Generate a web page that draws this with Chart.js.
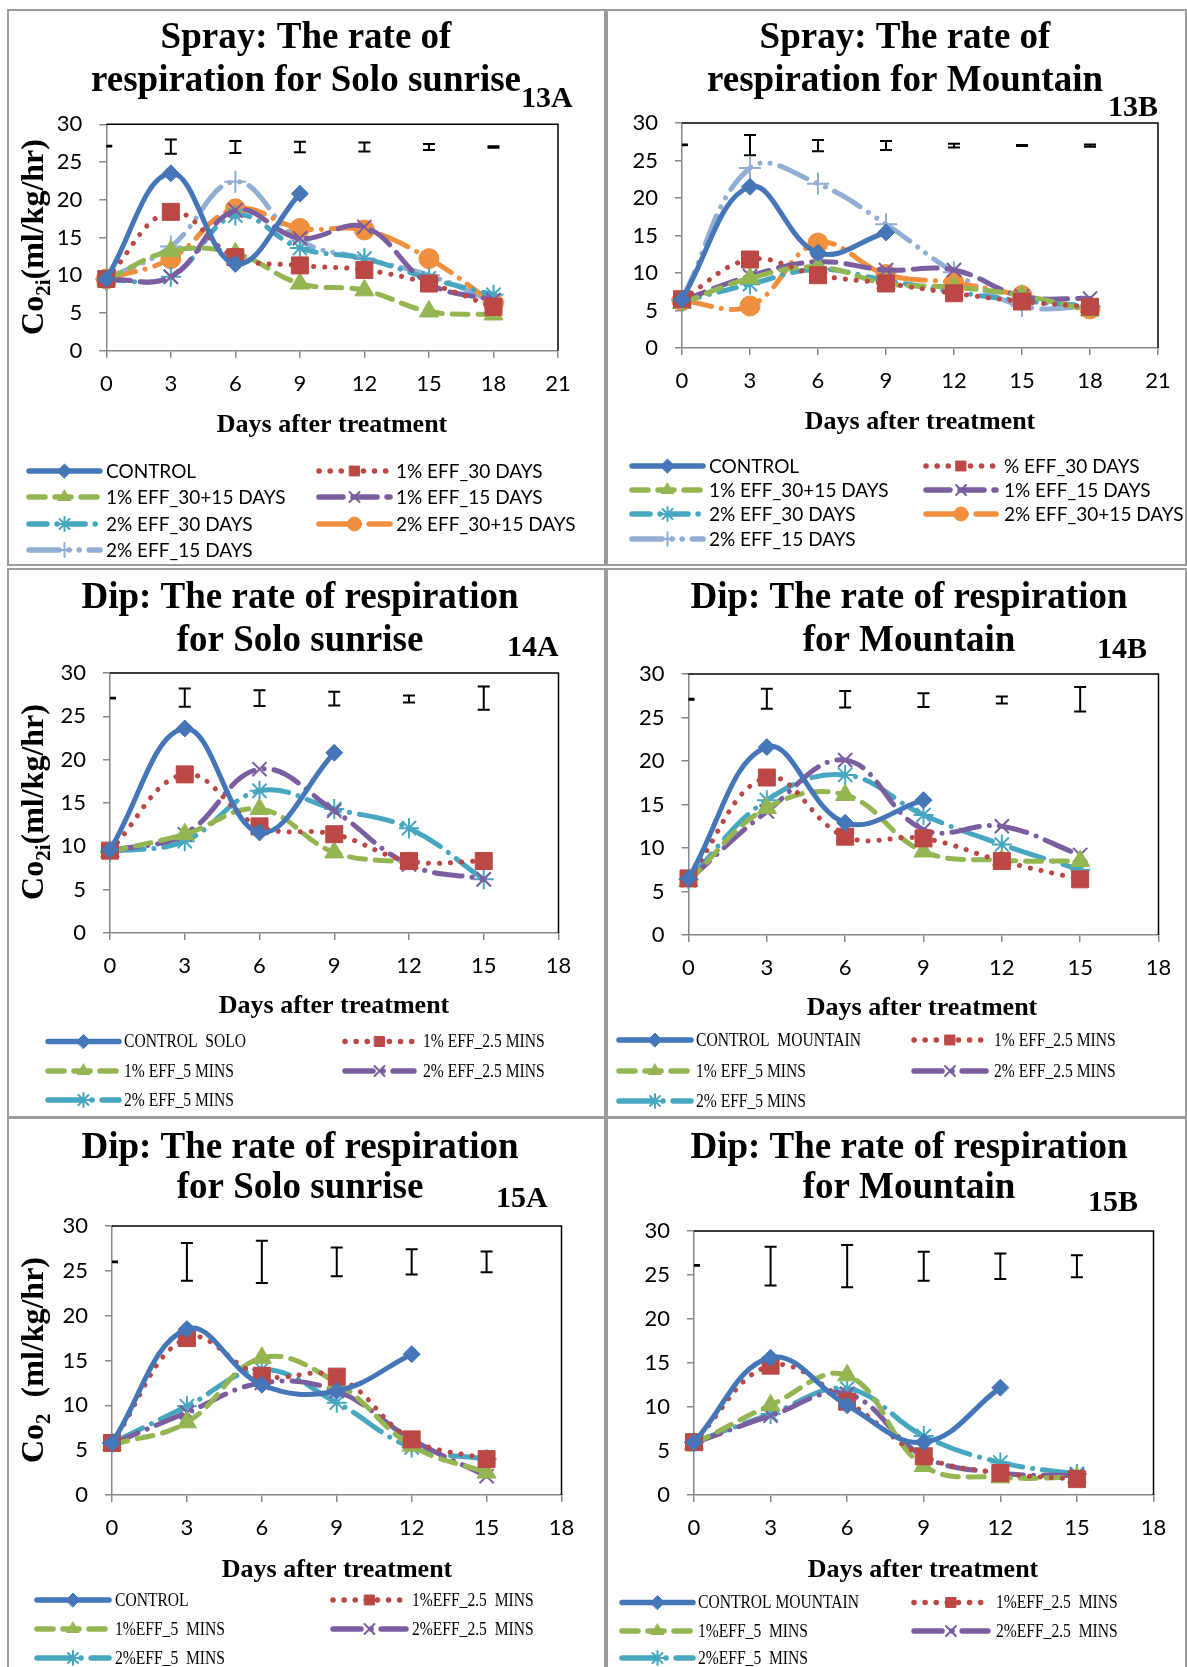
<!DOCTYPE html>
<html lang="en">
<head>
<meta charset="UTF-8">
<title>Respiration rate charts</title>
<script src="https://cdn.jsdelivr.net/npm/chart.js"></script>
<style>
  body { margin: 0; background: #fff; }
  #page { position: relative; width: 1187px; height: 1667px; overflow: hidden; background: #fff; }
  #page canvas { position: absolute; }
  .frame { position: absolute; border: 2px solid #9c9c9c; box-sizing: border-box; pointer-events: none; }
</style>
</head>
<body>
<div id="page"></div>

<script>
// ---------- data ----------
const days13 = [0, 3, 6, 9, 12, 15, 18];
const days14 = [0, 3, 6, 9, 12, 15];
const yTicks = [0, 5, 10, 15, 20, 25, 30];
const xTicks13 = [0, 3, 6, 9, 12, 15, 18, 21];
const xTicks14 = [0, 3, 6, 9, 12, 15, 18];

const names13A = ['CONTROL', '1% EFF_30 DAYS', '1% EFF_30+15 DAYS', '1% EFF_15 DAYS', '2% EFF_30 DAYS', '2% EFF_30+15 DAYS', '2% EFF_15 DAYS'];
const names13B = ['CONTROL', '% EFF_30 DAYS', '1% EFF_30+15 DAYS', '1% EFF_15 DAYS', '2% EFF_30 DAYS', '2% EFF_30+15 DAYS', '2% EFF_15 DAYS'];
const names14A = ['CONTROL  SOLO', '1% EFF_2.5 MINS', '1% EFF_5 MINS', '2% EFF_2.5 MINS', '2% EFF_5 MINS'];
const names14B = ['CONTROL  MOUNTAIN', '1% EFF_2.5 MINS', '1% EFF_5 MINS', '2% EFF_2.5 MINS', '2% EFF_5 MINS'];
const names15A = ['CONTROL', '1%EFF_2.5  MINS', '1%EFF_5  MINS', '2%EFF_2.5  MINS', '2%EFF_5  MINS'];
const names15B = ['CONTROL MOUNTAIN', '1%EFF_2.5  MINS', '1%EFF_5  MINS', '2%EFF_2.5  MINS', '2%EFF_5  MINS'];

// 13A spray, Solo sunrise
const s13A_control = [9.5, 23.5, 11.5, 20.8];
const s13A_eff1_30 = [9.5, 18.4, 12.4, 11.3, 10.7, 8.9, 5.8];
const s13A_eff1_30_15 = [9.4, 13.2, 12.9, 8.9, 8.0, 5.2, 4.8];
const s13A_eff1_15 = [9.5, 9.8, 18.6, 14.9, 16.4, 8.9, 6.7];
const s13A_eff2_30 = [9.3, 9.8, 17.9, 13.6, 12.2, 9.6, 7.4];
const s13A_eff2_30_15 = [9.5, 12.2, 18.8, 16.2, 16.0, 12.2, 6.3];
const s13A_eff2_15 = [9.5, 13.8, 22.4, 14.6, 12.2, 10.0, 6.5];
const e13A_mid = [27.1, 27.05, 27.0, 27.0, 27.0, 27.0, 27.0];
const e13A_half = [0.05, 0.95, 0.8, 0.7, 0.6, 0.4, 0.1];

// 13B spray, Mountain
const s13B_control = [6.5, 21.5, 12.7, 15.4];
const s13B_eff1_30 = [6.5, 11.8, 9.7, 8.6, 7.3, 6.2, 5.5];
const s13B_eff1_30_15 = [6.0, 9.3, 10.8, 8.6, 8.1, 7.0, 5.0];
const s13B_eff1_15 = [6.3, 9.6, 11.5, 10.4, 10.4, 6.9, 6.6];
const s13B_eff2_30 = [6.2, 8.5, 10.5, 9.0, 7.5, 6.3, 5.6];
const s13B_eff2_30_15 = [6.3, 5.6, 14.0, 9.8, 8.7, 7.0, 5.2];
const s13B_eff2_15 = [6.5, 24.0, 21.9, 16.5, 10.1, 5.6, 5.5];
const e13B_mid = [27.1, 27.05, 27.0, 27.0, 27.0, 27.0, 27.0];
const e13B_half = [0.05, 1.35, 0.75, 0.6, 0.25, 0.08, 0.15];

// 14A dip, Solo sunrise
const s14A_control = [9.6, 23.6, 11.6, 20.8];
const s14A_eff1_25 = [9.5, 18.3, 12.3, 11.4, 8.3, 8.3];
const s14A_eff1_5 = [9.4, 11.4, 14.3, 9.3, 8.1];
const s14A_eff2_25 = [9.5, 11.4, 18.9, 14.1, 7.9, 6.2];
const s14A_eff2_5 = [9.4, 10.6, 16.4, 14.3, 12.1, 6.2];
const e14A_mid = [27.1, 27.15, 27.1, 27.05, 27.0, 27.1];
const e14A_half = [0.05, 1.05, 0.9, 0.8, 0.4, 1.35];

// 14B dip, Mountain
const s14B_control = [6.5, 21.6, 12.9, 15.5];
const s14B_eff1_25 = [6.5, 18.1, 11.3, 11.1, 8.5, 6.4];
const s14B_eff1_5 = [6.2, 14.6, 16.1, 9.6, 8.6, 8.5];
const s14B_eff2_25 = [6.3, 14.2, 20.1, 12.1, 12.5, 9.2];
const s14B_eff2_5 = [6.4, 15.5, 18.4, 13.8, 10.4, 7.5];
const e14B_mid = [27.1, 27.15, 27.1, 27.0, 27.0, 27.1];
const e14B_half = [0.05, 1.15, 0.95, 0.8, 0.4, 1.4];

// 15A dip, Solo sunrise
const s15A_control = [5.8, 18.5, 12.3, 11.6, 15.7];
const s15A_eff1_25 = [5.8, 17.5, 13.3, 13.2, 6.2, 4.0];
const s15A_eff1_5 = [5.6, 8.1, 15.3, 12.5, 5.5, 2.5];
const s15A_eff2_25 = [5.7, 9.2, 12.5, 11.6, 6.2, 2.1];
const s15A_eff2_5 = [5.8, 9.9, 14.0, 10.3, 5.3, 4.0];
const e15A_mid = [26.0, 26.0, 26.0, 26.0, 26.0, 26.0];
const e15A_half = [0.05, 2.1, 2.35, 1.6, 1.4, 1.15];

// 15B dip, Mountain
const s15B_control = [6.0, 15.6, 10.2, 6.0, 12.2];
const s15B_eff1_25 = [6.0, 14.7, 10.6, 4.4, 2.5, 1.8];
const s15B_eff1_5 = [5.8, 10.2, 13.6, 3.3, 2.0, 2.0];
const s15B_eff2_25 = [5.9, 9.0, 11.5, 4.4, 2.5, 2.2];
const s15B_eff2_5 = [6.0, 9.2, 12.1, 6.7, 3.7, 2.4];
const e15B_mid = [26.1, 26.0, 26.0, 26.0, 26.0, 26.0];
const e15B_half = [0.05, 2.2, 2.4, 1.65, 1.45, 1.25];

// ---------- styles ----------
const stControl = { color: '#4576b8', dash: [], point: 'rectRot', r: 8.5, pbw: 1 };
const stRed = { color: '#bb4844', dash: [0.1, 11], point: 'rect', r: 12, pbw: 1 };
const stGreen = { color: '#94b652', dash: [16, 10], point: 'triangle', r: 11, pbw: 1 };
const stPurple = { color: '#7b5e9f', dash: [24, 10], point: 'crossRot', r: 10, pbw: 2 };
const stTeal = { color: '#48a7c0', dash: [18, 10, 0.1, 10], point: 'star', r: 10, pbw: 2 };
const stOrange = { color: '#f08f3e', dash: [30, 10, 0.1, 10], point: 'circle', r: 10, pbw: 1 };
const stLBlue = { color: '#91aed5', dash: [30, 10, 0.1, 10, 0.1, 10], point: 'cross', r: 11, pbw: 2 };
const stPurple2 = { color: '#7b5e9f', dash: [28, 10, 0.1, 10], point: 'crossRot', r: 10, pbw: 2 };
const stTeal2 = { color: '#48a7c0', dash: [34, 10, 0.1, 10], point: 'star', r: 10, pbw: 2 };

const styles13 = [stControl, stRed, stGreen, stPurple, stTeal, stOrange, stLBlue];
const styles14 = [stControl, stRed, stGreen, stPurple2, stTeal2];

const serif = '"Liberation Serif", "Times New Roman", serif';
const sans = 'Lato, "Open Sans", sans-serif';
Chart.defaults.font.family = sans;
Chart.defaults.color = '#000';

const runsCo2i = [['Co', 32, 0], ['2', 21, 7], ['i', 21, 7], ['(ml/kg/hr)', 32, 0]];
const runsCo2 = [['Co', 32, 0], ['2', 21, 7], ['  (ml/kg/hr)', 32, 0]];

// ---------- panel layout (page pixels) ----------
const panels = [
  { id: '13A', rect: [8, 10, 598, 556], plot: [106.3, 124.3, 558, 350.7], days: days13, xTicks: xTicks13,
    series: [s13A_control, s13A_eff1_30, s13A_eff1_30_15, s13A_eff1_15, s13A_eff2_30, s13A_eff2_30_15, s13A_eff2_15],
    names: names13A, styles: styles13, errMid: e13A_mid, errHalf: e13A_half,
    titles: ['Spray: The rate of', 'respiration for Solo sunrise'], titleX: 306, titleY: [38, 81],
    tag: { x: 521, y: 99 }, yTitle: { x: 32, y: 237, runs: runsCo2i }, xTitle: { x: 332, y: 425 },
    legend: { rows: [471, 497, 524, 550], cols: [[29, 100, 106], [319, 390, 396]], serif: false } },
  { id: '13B', rect: [607, 10, 580, 556], plot: [682, 123, 1158, 348], days: days13, xTicks: xTicks13,
    series: [s13B_control, s13B_eff1_30, s13B_eff1_30_15, s13B_eff1_15, s13B_eff2_30, s13B_eff2_30_15, s13B_eff2_15],
    names: names13B, styles: styles13, errMid: e13B_mid, errHalf: e13B_half,
    titles: ['Spray: The rate of', 'respiration for Mountain'], titleX: 905, titleY: [38, 81],
    tag: { x: 1108, y: 108 }, yTitle: null, xTitle: { x: 920, y: 422 },
    legend: { rows: [466, 490, 514, 539], cols: [[632, 703, 709], [926, 996, 1004]], serif: false } },
  { id: '14A', rect: [8, 569, 598, 549], plot: [110, 673, 558.5, 933], days: days14, xTicks: xTicks14,
    series: [s14A_control, s14A_eff1_25, s14A_eff1_5, s14A_eff2_25, s14A_eff2_5],
    names: names14A, styles: styles14, errMid: e14A_mid, errHalf: e14A_half,
    titles: ['Dip: The rate of respiration', 'for Solo sunrise'], titleX: 300, titleY: [598, 641],
    tag: { x: 507, y: 648 }, yTitle: { x: 32, y: 802, runs: runsCo2i }, xTitle: { x: 334, y: 1006 },
    legend: { rows: [1041.5, 1071, 1100], cols: [[48, 119, 124], [345, 414, 423]], serif: true } },
  { id: '14B', rect: [607, 569, 580, 549], plot: [688.5, 674, 1158.5, 935], days: days14, xTicks: xTicks14,
    series: [s14B_control, s14B_eff1_25, s14B_eff1_5, s14B_eff2_25, s14B_eff2_5],
    names: names14B, styles: styles14, errMid: e14B_mid, errHalf: e14B_half,
    titles: ['Dip: The rate of respiration', 'for Mountain'], titleX: 909, titleY: [598, 641],
    tag: { x: 1097, y: 650 }, yTitle: null, xTitle: { x: 922, y: 1008 },
    legend: { rows: [1040, 1071, 1101], cols: [[619, 691, 696], [914, 986, 994]], serif: true } },
  { id: '15A', rect: [8, 1118, 598, 560], plot: [112, 1226, 561.5, 1495], days: days14, xTicks: xTicks14,
    series: [s15A_control, s15A_eff1_25, s15A_eff1_5, s15A_eff2_25, s15A_eff2_5],
    names: names15A, styles: styles14, errMid: e15A_mid, errHalf: e15A_half,
    titles: ['Dip: The rate of respiration', 'for Solo sunrise'], titleX: 300, titleY: [1148, 1188],
    tag: { x: 496, y: 1199 }, yTitle: { x: 32, y: 1360, runs: runsCo2 }, xTitle: { x: 337, y: 1570 },
    legend: { rows: [1600, 1629, 1658], cols: [[37, 109, 115], [333, 406, 412]], serif: true } },
  { id: '15B', rect: [607, 1118, 580, 560], plot: [694, 1231, 1153.5, 1495], days: days14, xTicks: xTicks14,
    series: [s15B_control, s15B_eff1_25, s15B_eff1_5, s15B_eff2_25, s15B_eff2_5],
    names: names15B, styles: styles14, errMid: e15B_mid, errHalf: e15B_half,
    titles: ['Dip: The rate of respiration', 'for Mountain'], titleX: 909, titleY: [1148, 1188],
    tag: { x: 1088, y: 1203 }, yTitle: null, xTitle: { x: 923, y: 1570 },
    legend: { rows: [1602.5, 1631, 1658], cols: [[622, 693, 698], [914, 988, 996]], serif: true } }
];

// ---------- plugin: frame lines, error bars, titles, legend ----------
const decor = {
  id: 'decor',
  beforeDatasetsDraw(chart, args, o) {
    const a = chart.chartArea, ctx = chart.ctx;
    ctx.save();
    ctx.strokeStyle = '#000';
    ctx.lineWidth = 1.5;
    ctx.beginPath();
    ctx.moveTo(a.left, a.top);
    ctx.lineTo(a.right, a.top);
    ctx.lineTo(a.right, a.bottom);
    ctx.stroke();
    ctx.restore();
  },
  afterDatasetsDraw(chart, args, o) {
    const p = o.panel, a = chart.chartArea, ctx = chart.ctx;
    const xs = chart.scales.x, ys = chart.scales.y;
    ctx.save();
    ctx.beginPath();
    ctx.rect(a.left, a.top, a.right - a.left, a.bottom - a.top);
    ctx.clip();
    ctx.strokeStyle = '#000';
    ctx.lineWidth = 2;
    p.days.forEach((d, i) => {
      const px = xs.getPixelForValue(d);
      const t = ys.getPixelForValue(p.errMid[i] + p.errHalf[i]);
      const b = ys.getPixelForValue(p.errMid[i] - p.errHalf[i]);
      ctx.beginPath();
      ctx.moveTo(px, t); ctx.lineTo(px, b);
      ctx.moveTo(px - 6, t); ctx.lineTo(px + 6, t);
      ctx.moveTo(px - 6, b); ctx.lineTo(px + 6, b);
      ctx.stroke();
    });
    ctx.restore();
  },
  afterDraw(chart, args, o) {
    const p = o.panel, ctx = chart.ctx;
    const ox = p.rect[0], oy = p.rect[1];
    ctx.save();
    ctx.fillStyle = '#000';

    // titles
    ctx.font = 'bold 37px ' + serif;
    ctx.textAlign = 'center';
    ctx.textBaseline = 'middle';
    p.titles.forEach((t, i) => ctx.fillText(t, p.titleX - ox, p.titleY[i] - oy));
    ctx.font = 'bold 30px ' + serif;
    ctx.textAlign = 'left';
    ctx.fillText(p.id, p.tag.x - ox, p.tag.y - oy);

    // x title
    ctx.font = 'bold 26px ' + serif;
    ctx.textAlign = 'center';
    ctx.fillText('Days after treatment', p.xTitle.x - ox, p.xTitle.y - oy);

    // y title with subscripts
    if (p.yTitle) {
      ctx.save();
      ctx.translate(p.yTitle.x - ox, p.yTitle.y - oy);
      ctx.rotate(-Math.PI / 2);
      ctx.textAlign = 'left';
      ctx.textBaseline = 'alphabetic';
      let total = 0;
      p.yTitle.runs.forEach(r => { ctx.font = 'bold ' + r[1] + 'px ' + serif; total += ctx.measureText(r[0]).width; });
      let cx = -total / 2;
      p.yTitle.runs.forEach(r => {
        ctx.font = 'bold ' + r[1] + 'px ' + serif;
        ctx.fillText(r[0], cx, 11 + r[2]);
        cx += ctx.measureText(r[0]).width;
      });
      ctx.restore();
    }

    // legend
    const L = p.legend;
    chart.data.datasets.forEach((ds, i) => {
      const y = L.rows[Math.floor(i / 2)] - oy;
      const c = L.cols[i % 2];
      const s0 = c[0] - ox, s1 = c[1] - ox, tx = c[2] - ox;
      ctx.save();
      ctx.strokeStyle = ds.borderColor;
      ctx.lineWidth = 5.5;
      ctx.lineCap = 'round';
      ctx.setLineDash(ds.borderDash);
      ctx.beginPath();
      ctx.moveTo(s0, y);
      ctx.lineTo(s1, y);
      ctx.stroke();
      ctx.setLineDash([]);
      ctx.fillStyle = ds.pointBackgroundColor;
      ctx.strokeStyle = ds.pointBorderColor;
      ctx.lineWidth = ds.pointBorderWidth;
      Chart.helpers.drawPoint(ctx, { pointStyle: ds.pointStyle, rotation: 0, radius: 7, borderWidth: ds.pointBorderWidth }, (s0 + s1) / 2, y);
      ctx.restore();

      ctx.save();
      ctx.fillStyle = '#000';
      ctx.textAlign = 'left';
      ctx.textBaseline = 'middle';
      if (L.serif) {
        ctx.font = '19px ' + serif;
        ctx.translate(tx, y);
        ctx.scale(0.82, 1);
        ctx.fillText(ds.label, 0, 1);
      } else {
        ctx.font = '19px ' + sans;
        ctx.fillText(ds.label, tx, y + 1);
      }
      ctx.restore();
    });
    ctx.restore();
  }
};

// ---------- build charts ----------
const page = document.getElementById('page');

panels.forEach(p => {
  const [rx, ry, rw, rh] = p.rect;
  const [pl, pt, pr, pb] = p.plot;

  const cv = document.createElement('canvas');
  cv.width = rw;
  cv.height = rh;
  cv.style.left = rx + 'px';
  cv.style.top = ry + 'px';
  cv.style.width = rw + 'px';
  cv.style.height = rh + 'px';
  page.appendChild(cv);

  const fr = document.createElement('div');
  fr.className = 'frame';
  fr.style.left = (rx - 1) + 'px';
  fr.style.top = (ry - 1) + 'px';
  fr.style.width = (rw + 1) + 'px';
  fr.style.height = (rh + 1) + 'px';
  page.appendChild(fr);

  const datasets = p.series.map((vals, i) => {
    const st = p.styles[i];
    return {
      label: p.names[i],
      data: vals.map((v, j) => ({ x: p.days[j], y: v })),
      borderColor: st.color,
      backgroundColor: st.color,
      borderWidth: 5,
      borderDash: st.dash,
      borderCapStyle: 'round',
      borderJoinStyle: 'round',
      tension: 0.4,
      pointStyle: st.point,
      pointRadius: st.r,
      pointBackgroundColor: st.color,
      pointBorderColor: st.color,
      pointBorderWidth: st.pbw,
      clip: false
    };
  });

  const xMax = p.xTicks[p.xTicks.length - 1];

  new Chart(cv, {
    type: 'line',
    data: { datasets },
    options: {
      responsive: false,
      animation: false,
      events: [],
      layout: { padding: { left: 0, top: pt - ry, right: rx + rw - pr, bottom: 0 } },
      scales: {
        x: {
          type: 'linear', min: 0, max: xMax,
          afterBuildTicks: s => { s.ticks = p.xTicks.map(v => ({ value: v })); },
          afterFit: s => { s.height = ry + rh - pb; },
          ticks: { font: { size: 22 }, padding: 13, autoSkip: false, maxRotation: 0 },
          grid: { drawOnChartArea: false, drawTicks: true, tickLength: 7, color: '#888', lineWidth: 1.5 },
          border: { display: true, color: '#888', width: 1.5 }
        },
        y: {
          type: 'linear', min: 0, max: 30,
          afterBuildTicks: s => { s.ticks = yTicks.map(v => ({ value: v })); },
          afterFit: s => { s.width = pl - rx; },
          ticks: { font: { size: 22 }, padding: 17 },
          grid: { drawOnChartArea: false, drawTicks: true, tickLength: 7, color: '#888', lineWidth: 1.5 },
          border: { display: true, color: '#888', width: 1.5 }
        }
      },
      plugins: {
        legend: { display: false },
        tooltip: { enabled: false },
        decor: { panel: p }
      }
    },
    plugins: [decor]
  });
});
</script>
</body>
</html>
